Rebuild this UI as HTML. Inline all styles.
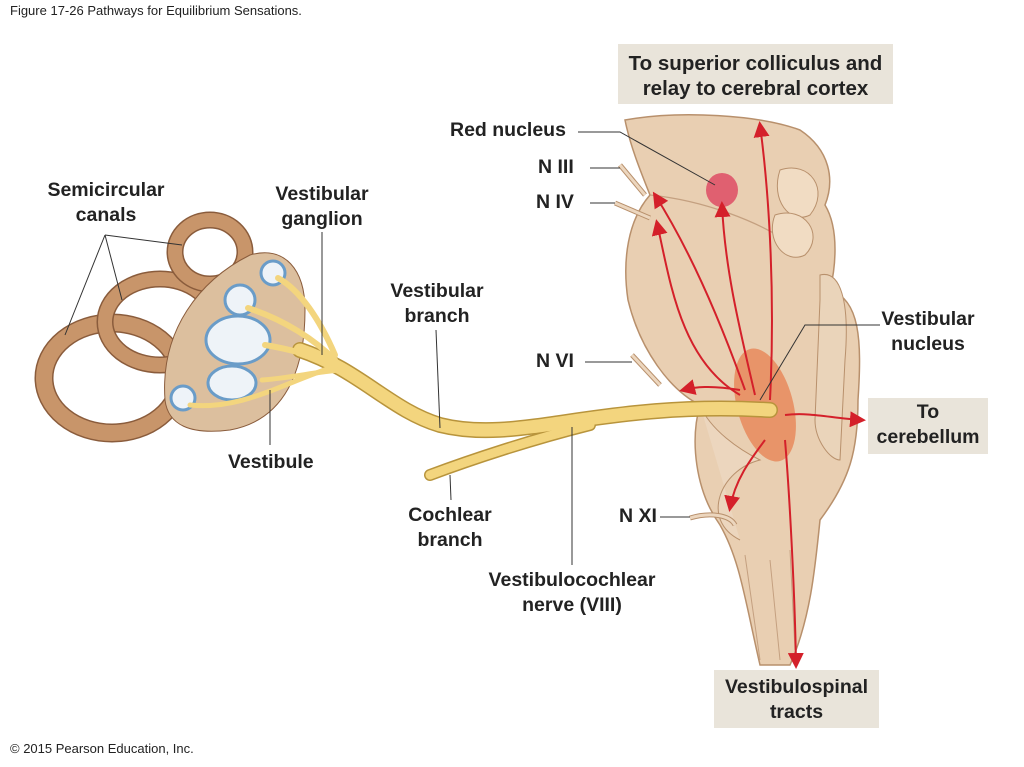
<!DOCTYPE html>
<html><head><meta charset="utf-8"><style>
html,body{margin:0;padding:0;background:#fff;}
body{width:1024px;height:767px;position:relative;overflow:hidden;font-family:"Liberation Sans",Arial,sans-serif;}
.t{position:absolute;font-weight:bold;font-size:19.5px;color:#222;line-height:25px;text-align:center;white-space:nowrap;}
</style></head><body>
<svg width="1024" height="767" style="position:absolute;left:0;top:0">
<defs>
<marker id="a" markerWidth="8" markerHeight="8" refX="6" refY="4" orient="auto"><path d="M0,0 L8,4 L0,8 Z" fill="#d4202a"/></marker>
</defs>
<rect x="618" y="44" width="275" height="60" fill="#e9e4da"/>
<rect x="868" y="398" width="120" height="56" fill="#e9e4da"/>
<rect x="714" y="670" width="165" height="58" fill="#e9e4da"/>
<!-- brainstem -->
<path d="M625,120 C680,110 760,115 800,130 C830,150 835,180 825,205 C840,230 835,270 830,290 C860,300 862,340 858,400 C858,450 850,480 820,520 C815,570 810,620 790,665 L760,665 C745,600 740,560 720,525 C695,490 690,440 700,405 C670,390 640,350 628,300 C622,260 628,220 650,195 C640,170 630,145 625,120 Z" fill="#e9cfb2" stroke="#b8906c" stroke-width="1.5"/>
<path d="M650,195 C700,200 760,220 800,250" fill="none" stroke="#c4a080" stroke-width="1.2"/>
<path d="M780,170 C810,160 830,190 810,215 C790,225 770,200 780,170Z" fill="#f1dcc3" stroke="#b8906c"/>
<path d="M775,215 C805,205 825,235 805,255 C785,265 765,240 775,215Z" fill="#f1dcc3" stroke="#b8906c"/>
<path d="M820,275 C840,270 850,300 845,360 L840,460 C830,460 815,440 815,420 L820,300Z" fill="#ead4ba" stroke="#b8906c"/>
<path d="M700,405 C710,430 740,450 760,460 C720,470 700,520 740,540" fill="#ecd6be" stroke="#b8906c"/>
<path d="M745,555 L760,660 M770,560 L780,660 M790,550 L795,650" stroke="#c4a080" fill="none"/>
<ellipse cx="765" cy="405" rx="28" ry="58" transform="rotate(-15 765 405)" fill="#e8895c" opacity="0.85"/>
<ellipse cx="722" cy="190" rx="16" ry="17" fill="#e06070"/>
<path d="M620,165 L645,195" stroke="#b8906c" stroke-width="5"/><path d="M620,165 L645,195" stroke="#ecd6be" stroke-width="3"/>
<path d="M615,203 L650,218" stroke="#b8906c" stroke-width="5"/><path d="M615,203 L650,218" stroke="#ecd6be" stroke-width="3"/>
<path d="M632,355 L660,385" stroke="#b8906c" stroke-width="5"/><path d="M632,355 L660,385" stroke="#ecd6be" stroke-width="3"/>
<path d="M690,518 C710,512 730,515 735,525" stroke="#b8906c" stroke-width="5" fill="none"/><path d="M690,518 C710,512 730,515 735,525" stroke="#ecd6be" stroke-width="3" fill="none"/>
<!-- inner ear canals -->
<g fill="none">
<ellipse cx="112" cy="378" rx="68" ry="55" stroke="#8a5c3c" stroke-width="19"/>
<ellipse cx="112" cy="378" rx="68" ry="55" stroke="#c8956a" stroke-width="16"/>
<ellipse cx="160" cy="322" rx="55" ry="43" stroke="#8a5c3c" stroke-width="17"/>
<ellipse cx="160" cy="322" rx="55" ry="43" stroke="#c8956a" stroke-width="14"/>
<ellipse cx="210" cy="252" rx="35" ry="32" stroke="#8a5c3c" stroke-width="17"/>
<ellipse cx="210" cy="252" rx="35" ry="32" stroke="#c8956a" stroke-width="14"/>
</g>
<path d="M165,400 C160,330 200,280 250,255 C285,245 305,270 305,310 C305,370 285,420 230,430 C190,435 168,425 165,400Z" fill="#dcbf9e" stroke="#8a5c3c"/>
<ellipse cx="238" cy="340" rx="32" ry="24" fill="#eef3f8" stroke="#6a9cc8" stroke-width="3"/>
<ellipse cx="232" cy="383" rx="24" ry="17" fill="#eef3f8" stroke="#6a9cc8" stroke-width="3"/>
<circle cx="240" cy="300" r="15" fill="#eef3f8" stroke="#6a9cc8" stroke-width="3"/>
<circle cx="273" cy="273" r="12" fill="#eef3f8" stroke="#6a9cc8" stroke-width="3"/>
<circle cx="183" cy="398" r="12" fill="#eef3f8" stroke="#6a9cc8" stroke-width="3"/>
<!-- nerve -->
<g fill="none" stroke="#b8943c" stroke-linecap="round">
<path d="M300,350 C360,370 390,410 440,425 C520,445 600,400 770,410" stroke-width="16"/>
<path d="M430,475 C470,460 530,440 590,425" stroke-width="12"/>
</g>
<g fill="none" stroke="#f3d57e" stroke-linecap="round">
<path d="M300,350 C360,370 390,410 440,425 C520,445 600,400 770,410" stroke-width="13"/>
<path d="M430,475 C470,460 530,440 590,425" stroke-width="9"/>
<path d="M190,405 C240,410 280,385 330,368" stroke-width="5"/>
<path d="M278,278 C300,290 320,320 335,355" stroke-width="6"/>
<path d="M248,308 C285,320 315,340 335,360" stroke-width="6"/>
<path d="M265,345 C295,350 320,358 340,365" stroke-width="6"/>
<path d="M262,380 C290,378 315,372 340,370" stroke-width="5"/>
</g>
<g fill="none" stroke="#d4202a" stroke-width="2" marker-end="url(#a)">
<path d="M770,400 C775,300 770,200 760,125"/>
<path d="M755,395 C740,330 725,270 722,205"/>
<path d="M745,390 C720,320 690,250 655,195"/>
<path d="M740,395 C680,360 670,280 657,223"/>
<path d="M740,390 C710,385 695,387 683,390"/>
<path d="M785,415 C810,412 830,418 862,420"/>
<path d="M765,440 C750,460 735,480 730,508"/>
<path d="M785,440 C790,500 795,600 796,665"/>
</g>
<g stroke="#333" stroke-width="1" fill="none">
<path d="M578,132 L620,132 L715,185"/>
<path d="M590,168 L620,168"/>
<path d="M590,203 L615,203"/>
<path d="M585,362 L632,362"/>
<path d="M660,517 L690,517"/>
<path d="M880,325 L805,325 L760,400"/>
<path d="M105,235 L65,335 M105,235 L122,300 M105,235 L182,245"/>
<path d="M322,232 L322,355"/>
<path d="M270,445 L270,390"/>
<path d="M436,330 L440,428"/>
<path d="M451,500 L450,475"/>
<path d="M572,565 L572,427"/>
</g>
</svg>
<div style="position:absolute;left:10px;top:3px;font-size:13px;color:#222;">Figure 17-26 Pathways for Equilibrium  Sensations.</div>
<div style="position:absolute;left:10px;top:741px;font-size:13px;color:#222;">© 2015 Pearson Education, Inc.</div>
<div class="t" style="left:618px;top:51px;width:275px;font-size:20.5px;">To superior colliculus and<br>relay to cerebral cortex</div>
<div class="t" style="left:868px;top:400px;width:120px;">To<br>cerebellum</div>
<div class="t" style="left:714px;top:675px;width:165px;">Vestibulospinal<br>tracts</div>
<div class="t" style="left:450px;top:118px;">Red nucleus</div>
<div class="t" style="left:538px;top:155px;">N III</div>
<div class="t" style="left:536px;top:190px;">N IV</div>
<div class="t" style="left:536px;top:349px;">N VI</div>
<div class="t" style="left:619px;top:504px;">N XI</div>
<div class="t" style="left:870px;top:307px;width:116px;">Vestibular<br>nucleus</div>
<div class="t" style="left:36px;top:178px;width:140px;">Semicircular<br>canals</div>
<div class="t" style="left:262px;top:182px;width:120px;">Vestibular<br>ganglion</div>
<div class="t" style="left:377px;top:279px;width:120px;">Vestibular<br>branch</div>
<div class="t" style="left:228px;top:450px;">Vestibule</div>
<div class="t" style="left:390px;top:503px;width:120px;">Cochlear<br>branch</div>
<div class="t" style="left:470px;top:568px;width:204px;">Vestibulocochlear<br>nerve (VIII)</div>
</body></html>
